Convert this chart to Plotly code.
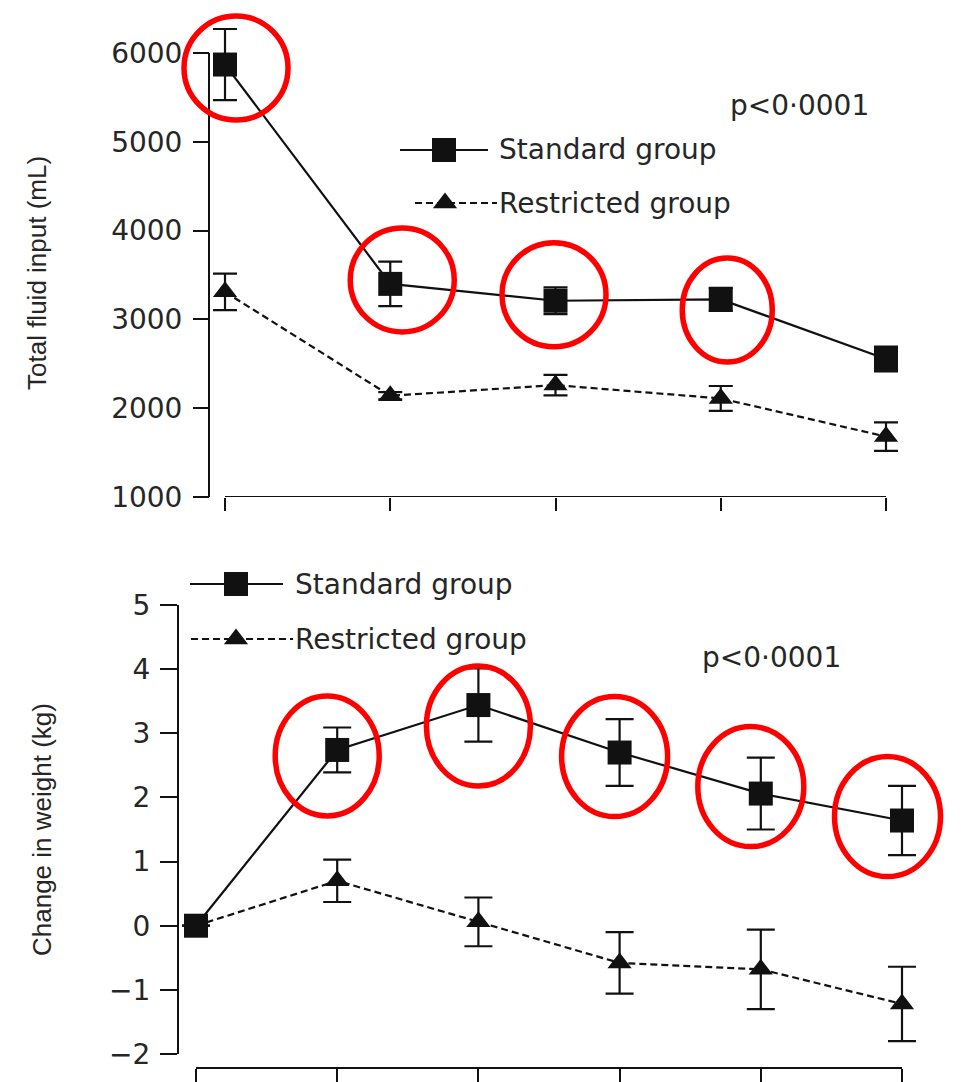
import plotly.graph_objects as go

# ---------------------------------------------------------------------------
# Data
# ---------------------------------------------------------------------------
fluid_days = [0, 1, 2, 3, 4]
standard_fluid = [5870, 3400, 3210, 3225, 2555]
standard_fluid_err = [400, 250, 150, 130, 140]
restricted_fluid = [3310, 2140, 2260, 2110, 1680]
restricted_fluid_err = [205, 40, 115, 140, 160]
fluid_ticks = [1000, 2000, 3000, 4000, 5000, 6000]

weight_days = [0, 1, 2, 3, 4, 5]
standard_weight = [0, 2.74, 3.44, 2.70, 2.06, 1.64]
standard_weight_err = [None, 0.35, 0.57, 0.52, 0.56, 0.54]
restricted_weight = [0, 0.70, 0.06, -0.58, -0.68, -1.22]
restricted_weight_err = [None, 0.33, 0.38, 0.48, 0.62, 0.58]
weight_ticks = [-2, -1, 0, 1, 2, 3, 4, 5]
weight_tick_text = ["\u22122", "\u22121", "0", "1", "2", "3", "4", "5"]

group_names = ["Standard group", "Restricted group"]
p_value_text = "p<0\u00b70001"
fluid_title = "Total fluid input (mL)"
weight_title = "Change in weight (kg)"

# points ringed in red: index into each standard series
fluid_ringed = [0, 1, 2, 3]
weight_ringed = [1, 2, 3, 4, 5]

# ---------------------------------------------------------------------------
# Page geometry: the paper covers the whole page, positions given in px
# ---------------------------------------------------------------------------
W, H = 967, 1082


def fx(px):
    return px / W


def fy(py):
    return (H - py) / H


def span(v0, p0, v1, p1, lo, hi, conv):
    """Domain (paper fractions) for an axis whose value v0 sits at pixel p0
    and v1 at pixel p1, when its range is widened to [lo, hi]."""
    k = (p1 - p0) / (v1 - v0)
    a, b = conv(p0 + (lo - v0) * k), conv(p0 + (hi - v0) * k)
    return [min(a, b), max(a, b)]


INK = "#111111"
TEXT = "#262626"
TICK_FONT = dict(family="DejaVu Sans", size=28, color=TEXT)
LABEL_FONT = dict(family="DejaVu Sans", size=28, color=TEXT)
TITLE_FONT = dict(family="Liberation Sans", size=26, color=TEXT)
DASH = "7px,4px"

fig = go.Figure()


def add_series(x, y, err, xa, ya, symbol, dash, size, cap):
    fig.add_trace(go.Scatter(
        x=x, y=y, xaxis=xa, yaxis=ya, mode="lines+markers",
        line=dict(color=INK, width=2.2, dash=dash),
        marker=dict(symbol=symbol, size=size, color=INK, line=dict(width=0)),
        error_y=dict(type="data", array=err, visible=True, color=INK,
                     thickness=2.2, width=cap),
        cliponaxis=False, showlegend=False, hoverinfo="skip"))


# upper panel: total fluid input
add_series(fluid_days, restricted_fluid, restricted_fluid_err, "x", "y",
           "triangle-up", DASH, 21, 12)
add_series(fluid_days, standard_fluid, standard_fluid_err, "x", "y",
           "square", "solid", 24, 12)

# lower panel: change in weight
add_series(weight_days, restricted_weight, restricted_weight_err, "x2", "y2",
           "triangle-up", DASH, 21, 14)
add_series(weight_days, standard_weight, standard_weight_err, "x2", "y2",
           "square", "solid", 24, 14)

# ---------------------------------------------------------------------------
# Legend keys (line segment with centred marker) on a full-page helper axis
# ---------------------------------------------------------------------------
legend_keys = [
    # (x_start, x_end, x_marker, y, symbol, dash, text_x, label)
    (400, 488, 444, 150, "square", "solid", 497, group_names[0]),
    (415, 497, 445, 203, "triangle-up", DASH, 497, group_names[1]),
    (190, 283, 236, 584, "square", "solid", 293, group_names[0]),
    (191, 293, 236, 639, "triangle-up", DASH, 293, group_names[1]),
]
for x0, x1, xm, yk, sym, dash, tx, label in legend_keys:
    fig.add_trace(go.Scatter(
        x=[fx(x0), fx(x1)], y=[fy(yk), fy(yk)], xaxis="x3", yaxis="y3",
        mode="lines", line=dict(color=INK, width=2, dash=dash),
        cliponaxis=False, showlegend=False, hoverinfo="skip"))
    fig.add_trace(go.Scatter(
        x=[fx(xm)], y=[fy(yk)], xaxis="x3", yaxis="y3", mode="markers",
        marker=dict(symbol=sym, size=24 if sym == "square" else 21, color=INK),
        cliponaxis=False, showlegend=False, hoverinfo="skip"))
    fig.add_annotation(x=fx(tx), y=fy(yk), xref="paper", yref="paper",
                       text=label, showarrow=False, xanchor="left",
                       yanchor="middle", font=LABEL_FONT)

# p-values
fig.add_annotation(x=fx(728), y=fy(105), xref="paper", yref="paper",
                   text=p_value_text, showarrow=False, xanchor="left",
                   yanchor="middle", font=LABEL_FONT)
fig.add_annotation(x=fx(700), y=fy(658), xref="paper", yref="paper",
                   text=p_value_text, showarrow=False, xanchor="left",
                   yanchor="middle", font=LABEL_FONT)

# y-axis titles
fig.add_annotation(x=fx(37), y=fy(273), xref="paper", yref="paper",
                   text=fluid_title, showarrow=False, textangle=-90,
                   xanchor="center", yanchor="middle", font=TITLE_FONT)
fig.add_annotation(x=fx(42), y=fy(830), xref="paper", yref="paper",
                   text=weight_title, showarrow=False, textangle=-90,
                   xanchor="center", yanchor="middle", font=TITLE_FONT)

# ---------------------------------------------------------------------------
# Shapes: detached axis lines and red rings around selected points
# ---------------------------------------------------------------------------
AXIS_LINE = dict(color=INK, width=2)
shapes = [
    # upper panel: y line from first to last tick, x line under the days
    dict(type="line", xref="paper", yref="y", x0=fx(209), x1=fx(209),
         y0=fluid_ticks[0], y1=fluid_ticks[-1], line=AXIS_LINE, layer="below"),
    dict(type="line", xref="x", yref="y", x0=fluid_days[0], x1=fluid_days[-1],
         y0=fluid_ticks[0], y1=fluid_ticks[0], line=AXIS_LINE, layer="below"),
    # lower panel: x line under the days, offset below the y axis
    dict(type="line", xref="x2", yref="paper", x0=weight_days[0],
         x1=weight_days[-1], y0=fy(1068), y1=fy(1068), line=AXIS_LINE,
         layer="below"),
]

# ring geometry in px: (shift right, shift up, x radius, y radius)
fluid_ring_geom = [(11, -3.5, 52, 52), (12, 4, 52, 52), (-1.5, 6, 52, 52),
                   (6.5, -10.5, 45, 52)]
weight_ring_geom = [(-10, -6, 52, 60), (0, -21, 52, 60), (-5, -4, 53, 60),
                    (-10, 7, 53, 60), (-14.5, 4, 53, 60)]


def ring(xa, ya, xv, yv, geom):
    dx, dy, rx, ry = geom
    return dict(type="circle", xref=xa, yref=ya, xsizemode="pixel",
                ysizemode="pixel", xanchor=xv, yanchor=yv,
                x0=dx - rx, x1=dx + rx, y0=dy - ry, y1=dy + ry,
                line=dict(color="#ff0000", width=5.5), layer="above")


for i, g in zip(fluid_ringed, fluid_ring_geom):
    shapes.append(ring("x", "y", fluid_days[i], standard_fluid[i], g))
for i, g in zip(weight_ringed, weight_ring_geom):
    shapes.append(ring("x2", "y2", weight_days[i], standard_weight[i], g))

# ---------------------------------------------------------------------------
# Axes (ranges widened so error bars and rings are never clipped)
# ---------------------------------------------------------------------------
axis_common = dict(showgrid=False, zeroline=False, ticks="outside",
                   tickcolor=INK, tickwidth=2, tickfont=TICK_FONT,
                   fixedrange=True, automargin=False)

fluid_x_range = [-0.35, 4.2]
fluid_y_range = [1000, 6560]
weight_x_range = [-0.15, 5.4]
weight_y_range = [-2, 5]

fig.update_layout(
    width=W, height=H,
    margin=dict(l=0, r=0, t=0, b=0, pad=0, autoexpand=False),
    paper_bgcolor="white", plot_bgcolor="rgba(0,0,0,0)",
    showlegend=False,
    shapes=shapes,
    xaxis=dict(axis_common, showline=False, range=fluid_x_range,
               domain=span(0, 225, 4, 886, *fluid_x_range, fx),
               anchor="y", tickvals=fluid_days, showticklabels=False,
               ticklen=13),
    yaxis=dict(axis_common, showline=False, range=fluid_y_range,
               domain=span(1000, 497, 6000, 53, *fluid_y_range, fy),
               anchor="free", position=fx(209), tickvals=fluid_ticks,
               ticklen=16, ticklabelstandoff=5),
    xaxis2=dict(axis_common, showline=False, range=weight_x_range,
                domain=span(0, 196, 5, 902, *weight_x_range, fx),
                anchor="free", position=fy(1068), tickvals=weight_days,
                showticklabels=False, ticklen=16),
    yaxis2=dict(axis_common, showline=True, linecolor=INK, linewidth=2,
                range=weight_y_range,
                domain=span(-2, 1054, 5, 605, *weight_y_range, fy),
                anchor="free", position=fx(178), tickvals=weight_ticks,
                ticktext=weight_tick_text, ticklen=17, ticklabelstandoff=4),
    xaxis3=dict(domain=[0, 1], range=[0, 1], anchor="y3", visible=False,
                fixedrange=True),
    yaxis3=dict(domain=[0, 1], range=[0, 1], anchor="x3", visible=False,
                fixedrange=True),
)

fig.write_html("out.html")
